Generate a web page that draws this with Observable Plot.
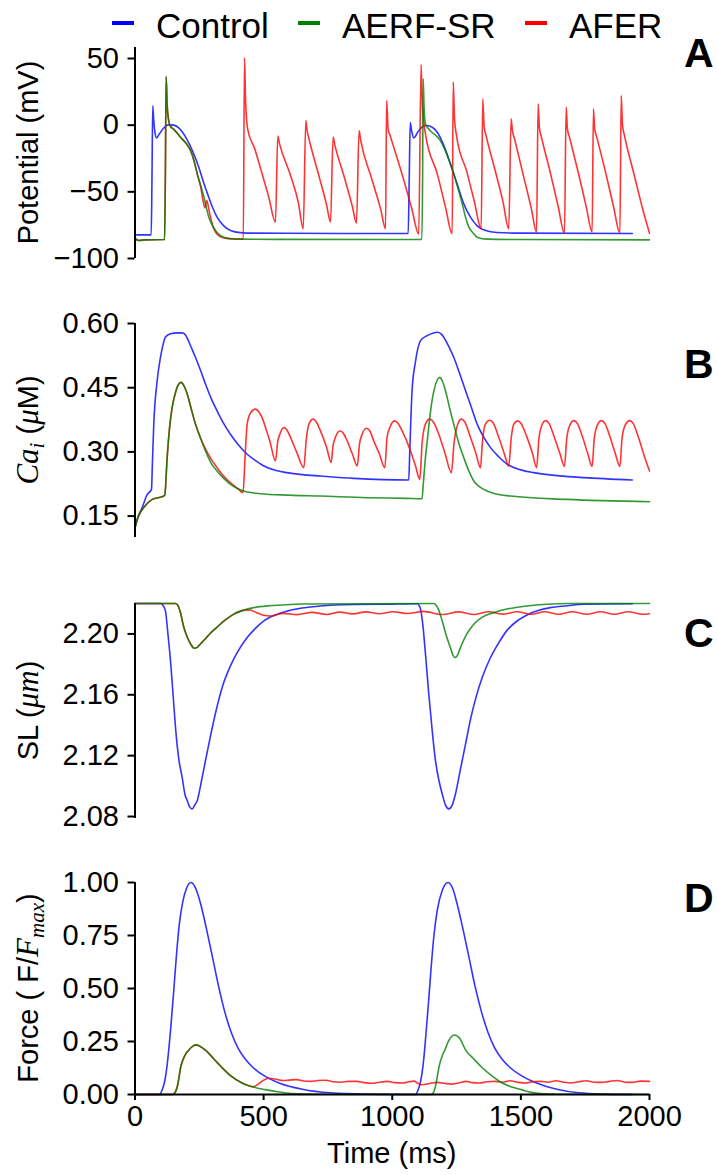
<!DOCTYPE html>
<html><head><meta charset="utf-8">
<script src="https://cdn.jsdelivr.net/npm/d3@7"></script>
<script src="https://cdn.jsdelivr.net/npm/@observablehq/plot@0.6"></script>
<style>
html,body{margin:0;padding:0;background:#fff;}
#fig{position:relative;width:718px;height:1175px;overflow:hidden;background:#fff;}
#fig svg.panel{position:absolute;left:0;}
#overlay{position:absolute;left:0;top:0;}
</style></head><body><div id="fig"></div>
<script>
// ---------------- data ----------------
const seriesNames = ["Control", "AERF-SR", "AFER"];
const seriesColors = ["#0000ff", "#008000", "#ff0000"];
const panelLetters = ["A", "B", "C", "D"];
const xTicks = [0, 500, 1000, 1500, 2000];
const apTicks = [-100, -50, 0, 50];
const caTicks = [0.15, 0.30, 0.45, 0.60];
const slTicks = [2.08, 2.12, 2.16, 2.20];
const forceTicks = [0, 0.25, 0.5, 0.75, 1.0];

// Panel A: membrane potential (mV), [time ms, value]
const apControl = [[0,-82.3],[63,-82.3],[66,-40],[69,14.5],[73,3],[78,-6],[84,-9.5],[95,-6.5],[110,-2.5],[130,0.2],[150,0],[170,-2],[203,-11],[225,-20],[248,-31.5],[265,-42],[283,-52],[300,-61],[319,-69],[345,-75.5],[371,-79],[410,-80.6],[462,-81],[800,-81.2],[1062,-81.3],
  [1066,-40],[1070,2],[1075,-4],[1084,-9.5],[1100,-5],[1115,-1.5],[1130,-0.3],[1150,-1],[1175,-5.3],[1200,-15],[1226,-29],[1252,-44],[1278,-59],[1304,-69],[1330,-75.5],[1360,-78.8],[1408,-80.5],[1500,-81],[1933,-81.2]];
const apAerf = [[0,-85],[15,-86.5],[40,-86],[115,-85.8],[118,-40],[121,36.5],[125,15],[131,3.5],[138,-1],[150,-3],[177,-9],[200,-14],[216,-19],[230,-27],[242,-36.5],[255,-45],[268,-54],[287,-69],[300,-75],[313,-79],[330,-82.5],[345,-84],[380,-85.2],[410,-85.5],[1000,-85.8],[1115,-85.8],
  [1118,-40],[1120,34.75],[1124,12],[1129,1],[1140,-2.5],[1165,-7],[1185,-11],[1200,-16.5],[1220,-26],[1239,-36.5],[1255,-47],[1272,-59],[1285,-69],[1298,-76.5],[1315,-81],[1330,-84],[1369,-85.5],[1500,-85.8],[2000,-86]];
const apAfer = [[0,-85],[15,-86.5],[40,-86],[115,-85.8],[118,-40],[121,36.5],[125,15],[131,3.5],[138,-1],[150,-3],[177,-9],[200,-14],[216,-19],[230,-27],[242,-36.5],[255,-46],[266,-58],[272,-62],[279,-56.5],[290,-66],[305,-77],[330,-83.5],[370,-85.3],[421,-85.5],
  [425.6,50.5],[430,18],[438,-3],[466,-18],[494,-36.5],[520,-54],[546,-72.75],
  [555,-8.25],[562,-14],[605,-38],[635,-58],[654,-77.75],
  [664,3.5],[669,-4],[676,-10],[715,-38],[745,-60],[760,-72.75],
  [770,-9],[777,-15],[815,-40],[845,-61],[861,-73.5],
  [871,-4],[877,-11],[920,-40],[955,-63],[974,-77.75],
  [978,18.5],[984,-3],[992,-8],[1040,-38],[1075,-62],[1103,-81.5],
  [1112,45.5],[1117,15],[1129,-6.5],[1175,-36.5],[1207,-61.5],[1233,-81.5],
  [1237,32.25],[1242,5],[1250,-8],[1290,-35],[1320,-58],[1345.6,-77.75],
  [1352,19.75],[1357,-1],[1365,-8],[1400,-34],[1430,-57],[1453,-77.75],
  [1462,4.75],[1467,-4],[1475,-10],[1510,-38],[1540,-62],[1561,-80.25],
  [1567,16],[1572,-2],[1580,-9],[1615,-36],[1645,-61],[1669.5,-81],
  [1676,13.5],[1681,-3],[1689,-9],[1725,-37],[1755,-62],[1777,-80.25],
  [1782,12.25],[1787,-3],[1795,-9],[1830,-36],[1860,-61],[1885,-81],
  [1890,22.25],[1895,0],[1903,-8],[1940,-37],[1975,-64],[2000,-81]];

// Panel B: intracellular Ca (uM)
const caControl = [[0,0.123],[10,0.145],[28,0.17],[47,0.2],[64,0.2125],[68,0.28],[73,0.365],[85,0.46],[99,0.521],[110,0.553],[118,0.568],[138,0.576],[165,0.578],[183,0.578],[195,0.574],[203,0.566],[218,0.545],[235,0.521],[255,0.49],[274,0.4586],[296,0.425],[319,0.396],[345,0.366],[371,0.3414],[400,0.318],[436,0.2945],[470,0.279],[501,0.2671],[545,0.257],[591,0.2515],[650,0.247],[721,0.2437],[851,0.2382],[1064,0.2343],
  [1068,0.3],[1077,0.443],[1090,0.51],[1110,0.56],[1136,0.5718],[1160,0.578],[1175,0.5797],[1190,0.576],[1200,0.568],[1220,0.546],[1239,0.521],[1262,0.483],[1285,0.443],[1308,0.403],[1330,0.365],[1355,0.335],[1382,0.31],[1415,0.288],[1447,0.271],[1500,0.258],[1550,0.2515],[1650,0.244],[1745,0.2398],[1933,0.2343]];
const caAerf = [[0,0.123],[12,0.148],[34,0.17],[67,0.189],[112,0.197],[116,0.2],[125,0.2867],[135,0.36],[144.5,0.404],[158,0.44],[170,0.4586],[179,0.4625],[190,0.455],[203,0.435],[218,0.402],[235,0.365],[255,0.332],[274,0.3023],[296,0.274],[319,0.2554],[345,0.238],[371,0.2242],[400,0.214],[423,0.2085],[488,0.2023],[600,0.199],[721,0.1968],[900,0.193],[1058,0.1914],[1116,0.1905],
  [1120,0.22],[1128,0.28],[1136,0.3257],[1150,0.4],[1162,0.443],[1175,0.468],[1185,0.4742],[1195,0.465],[1207,0.443],[1222,0.405],[1239,0.365],[1258,0.322],[1278,0.2867],[1298,0.255],[1317,0.232],[1340,0.218],[1369,0.2085],[1400,0.202],[1460,0.1968],[1680,0.189],[2000,0.1835]];
const caAfer = [[0,0.123],[12,0.148],[34,0.17],[67,0.189],[112,0.197],[116,0.2],[125,0.2867],[135,0.36],[144.5,0.404],[158,0.44],[170,0.4586],[179,0.4625],[190,0.455],[203,0.435],[218,0.402],[235,0.365],[255,0.332],[274,0.307],[296,0.283],[319,0.2632],[345,0.243],[371,0.228],[400,0.214],[420,0.2046],
  [428,0.29],[436,0.365],[450,0.392],[468,0.4],[482,0.393],[494,0.38],[510,0.352],[524,0.3257],[546,0.2789],
  [555,0.325],[563,0.3414],[578.6,0.357],[590,0.352],[604.5,0.334],[630,0.297],[656,0.2632],
  [666,0.33],[676,0.365],[692.6,0.3765],[705,0.37],[721,0.349],[745,0.31],[762.5,0.275],
  [770,0.315],[779,0.334],[796,0.349],[808,0.345],[825,0.3257],[845,0.295],[864,0.2671],
  [873,0.32],[883,0.3414],[900,0.3554],[912,0.35],[928,0.3257],[950,0.295],[971,0.2632],
  [980,0.335],[990.6,0.357],[1009,0.3726],[1022,0.367],[1038.5,0.349],[1071,0.3023],[1090,0.268],[1107,0.2359],
  [1116,0.32],[1129,0.365],[1146,0.3765],[1160,0.37],[1181,0.3414],[1205,0.297],[1230,0.2515],
  [1240,0.32],[1255,0.365],[1269,0.3765],[1282,0.37],[1304,0.334],[1325,0.297],[1343,0.2632],
  [1350,0.32],[1362,0.365],[1379,0.374],[1392,0.368],[1414,0.334],[1435,0.297],[1453,0.2671],
  [1462,0.33],[1472.6,0.365],[1488,0.3726],[1500,0.367],[1524,0.334],[1545,0.297],[1561,0.2632],
  [1570,0.33],[1580,0.36],[1596,0.373],[1610,0.366],[1630,0.334],[1652,0.296],[1669.5,0.266],
  [1678,0.33],[1690,0.362],[1706,0.373],[1720,0.366],[1740,0.334],[1760,0.296],[1777,0.266],
  [1785,0.33],[1797,0.362],[1813,0.373],[1827,0.366],[1847,0.334],[1867,0.296],[1885,0.266],
  [1893,0.33],[1905,0.362],[1923,0.373],[1937,0.366],[1957,0.334],[1980,0.29],[2000,0.2554]];

// Panel C: sarcomere length (um)
const slControl = [[0,2.22],[99,2.22],[110,2.2185],[118.5,2.215],[128,2.2],[138,2.1823],[148,2.16],[157.4,2.1386],[170,2.118],[183,2.106],[195,2.094],[203,2.0905],[212,2.0865],[222,2.085],[232,2.0875],[242,2.0905],[258,2.103],[274,2.1168],[293,2.1325],[313,2.148],[340,2.1655],[371,2.179],[400,2.1885],[436,2.1976],[470,2.204],[501,2.2086],[545,2.2125],[591.5,2.215],[650,2.217],[721,2.2184],[850,2.2193],[980,2.2195],[1097,2.2198],
  [1108,2.2175],[1120,2.2042],[1130,2.185],[1142,2.1605],[1155,2.137],[1168,2.1168],[1181,2.104],[1194,2.095],[1207,2.0875],[1220,2.085],[1233,2.0875],[1246,2.095],[1265,2.111],[1285,2.1277],[1305,2.1445],[1325,2.158],[1350,2.1715],[1382,2.1845],[1415,2.1945],[1447,2.2025],[1485,2.2085],[1524,2.2125],[1570,2.2155],[1615,2.2173],[1680,2.2185],[1745,2.2195],[1933,2.2198]];
const slAerf = [[0,2.22],[157,2.22],[165,2.2192],[175,2.215],[190,2.2042],[203,2.198],[216,2.1935],[230,2.1906],[242,2.1912],[255,2.1935],[268,2.1958],[290,2.2],[319,2.2045],[350,2.209],[384,2.213],[420,2.2155],[462,2.2173],[520,2.2185],[565.6,2.219],[650,2.2197],[1160,2.22],
  [1170,2.219],[1180,2.216],[1194,2.2086],[1210,2.199],[1226,2.191],[1236,2.186],[1243,2.1845],[1252,2.1855],[1265,2.191],[1290,2.2],[1317,2.2064],[1350,2.211],[1395,2.214],[1450,2.2165],[1524,2.2184],[1600,2.2195],[1680,2.22],[2000,2.22]];
const slAfer = [[0,2.22],[157,2.22],[165,2.2192],[175,2.215],[190,2.2042],[203,2.198],[216,2.1935],[230,2.1906],[242,2.1912],[255,2.1935],[268,2.1958],[290,2.2],[319,2.2045],[350,2.209],[384,2.213],[420,2.2155],[445,2.2158],[470,2.2142],[495,2.2125],[527,2.2118],[575,2.2135],[630,2.2127],[688,2.2142],[745,2.2128],[795,2.2143],[846,2.2132],[898,2.2145],[950,2.2133],[1003,2.2146],[1060,2.2134],[1120,2.2148],[1195,2.2128],[1257,2.2145],[1320,2.2128],[1375,2.2146],[1430,2.213],[1485,2.2146],[1540,2.2129],[1593,2.2146],[1646,2.2129],[1700,2.2146],[1756,2.2129],[1810,2.2146],[1863,2.2129],[1918,2.2146],[1973,2.2129],[2000,2.2133]];

// Panel D: normalised force (F/Fmax)
const fControl = [[0,0],[95,0],[105,0.02],[115,0.06],[125,0.14],[138,0.3],[150,0.48],[160,0.64],[172,0.8],[185,0.905],[200,0.972],[218,1.0],[235,0.975],[255,0.9],[278,0.78],[300,0.655],[325,0.51],[350,0.385],[375,0.29],[400,0.22],[430,0.165],[461,0.125],[500,0.09],[565,0.052],[650,0.025],[760,0.008],[900,0.002],[1090,0],
  [1100,0.02],[1110,0.06],[1120,0.14],[1130,0.27],[1140,0.42],[1150,0.58],[1162,0.75],[1175,0.87],[1195,0.965],[1217,1.0],[1234,0.975],[1252,0.9],[1275,0.78],[1297,0.655],[1322,0.51],[1348,0.385],[1373,0.29],[1398,0.22],[1428,0.165],[1460,0.125],[1500,0.09],[1561,0.054],[1640,0.025],[1725,0.008],[1830,0.002],[1933,0]];
const fAerf = [[0,0],[145,0],[155,0.008],[165,0.04],[178,0.131],[192,0.18],[208,0.208],[225,0.228],[238,0.234],[252,0.228],[275,0.208],[305,0.17],[335,0.131],[370,0.09],[416,0.054],[460,0.035],[506,0.023],[560,0.012],[610,0.005],[700,0.001],[1150,0],
  [1160,0.008],[1170,0.05],[1182,0.131],[1195,0.185],[1204,0.208],[1220,0.255],[1242,0.281],[1262,0.265],[1286,0.208],[1315,0.17],[1346,0.131],[1385,0.09],[1427.5,0.054],[1465,0.035],[1502,0.023],[1540,0.01],[1576,0.004],[1650,0.001],[2000,0]];
const fAfer = [[0,0],[145,0],[155,0.008],[165,0.04],[178,0.131],[192,0.18],[208,0.208],[225,0.228],[238,0.234],[252,0.228],[275,0.208],[305,0.17],[335,0.131],[370,0.09],[416,0.054],[440,0.042],[460,0.037],[480,0.05],[500,0.068],[520,0.077],[545,0.073],[575,0.066],[600,0.068],[628,0.07],[655,0.064],[684,0.062],[710,0.066],[743,0.067],[770,0.06],[803,0.058],[830,0.062],[862,0.062],[890,0.056],[922,0.053],[950,0.058],[981,0.062],[1010,0.056],[1041,0.054],[1065,0.06],[1085,0.063],[1100,0.052],[1115,0.046],[1145,0.052],[1175,0.057],[1205,0.052],[1234,0.049],[1260,0.055],[1286,0.062],[1310,0.056],[1338,0.054],[1368,0.06],[1398,0.062],[1428,0.058],[1457,0.065],[1487,0.058],[1517,0.054],[1546,0.06],[1576,0.062],[1606,0.058],[1636,0.065],[1665,0.058],[1695,0.054],[1725,0.06],[1755,0.065],[1785,0.058],[1814,0.057],[1844,0.062],[1874,0.066],[1904,0.058],[1933,0.057],[1965,0.063],[2000,0.062]];

// ---------------- layout ----------------
const FONT = '"Liberation Sans", Arial, Helvetica, sans-serif';
const MATH = '"Liberation Serif", "DejaVu Serif", serif';
const W = 718, ML = 134.5, MR = 69;
const minus = d => (d < 0 ? "\u2212" + Math.abs(d) : String(d));
const f2 = d3.format(".2f");

const panels = [
  {top: 47,  bottom: 258,  domain: [-100, 58.25], ticks: apTicks,    fmt: minus, series: [apControl, apAerf, apAfer]},
  {top: 323, bottom: 537,  domain: [0.1, 0.6],    ticks: caTicks,    fmt: f2,    series: [caControl, caAerf, caAfer]},
  {top: 603, bottom: 818,  domain: [2.0787, 2.22],ticks: slTicks,    fmt: f2,    series: [slControl, slAerf, slAfer]},
  {top: 882, bottom: 1094, domain: [0, 1],        ticks: forceTicks, fmt: f2,    series: [fControl, fAerf, fAfer]}
];

const fig = document.getElementById("fig");
panels.forEach((p, i) => {
  const mt = 12, mb = i === 3 ? 81 : 12;
  const marks = [];
  for (const k of [0, 2, 1]) {
    marks.push(Plot.line(p.series[k], {x: d => d[0], y: d => d[1], stroke: seriesColors[k], strokeWidth: 1.6, strokeOpacity: 0.8, curve: "monotone-x"}));
  }
  marks.push(Plot.ruleX([0], {stroke: "black", strokeWidth: 2}));
  marks.push(Plot.axisY(p.ticks, {tickSize: 7, tickPadding: 9, tickFormat: p.fmt, strokeWidth: 2, label: null, fontSize: 29}));
  if (i === 3) {
    marks.push(Plot.ruleY([0], {stroke: "black", strokeWidth: 2}));
    marks.push(Plot.axisX(xTicks, {tickSize: 6, tickPadding: 5, strokeWidth: 2, label: null, fontSize: 29, tickFormat: d => String(d)}));
  }
  const svg = Plot.plot({
    width: W, height: (p.bottom - p.top) + mt + mb,
    marginTop: mt, marginBottom: mb, marginLeft: ML, marginRight: MR,
    x: i === 3 ? {domain: [0, 2000]} : {domain: [0, 2000], axis: null},
    y: {domain: p.domain},
    style: {background: "transparent", overflow: "visible", fontFamily: FONT, fontSize: "29px", color: "black"},
    marks
  });
  svg.classList.add("panel");
  svg.style.top = (p.top - mt) + "px";
  fig.appendChild(svg);
});

// overlay: legend, axis titles, panel letters
const ov = d3.select(fig).append("svg").attr("id", "overlay").attr("width", W).attr("height", 1175)
  .style("font-family", FONT);

const legendX = [{dash: 112, text: 156}, {dash: 298, text: 342}, {dash: 525, text: 569}];
seriesNames.forEach((name, k) => {
  ov.append("line").attr("x1", legendX[k].dash).attr("x2", legendX[k].dash + 22)
    .attr("y1", 23).attr("y2", 23).attr("stroke", seriesColors[k]).attr("stroke-width", 4);
  ov.append("text").attr("x", legendX[k].text).attr("y", 38).attr("font-size", 35).text(name);
});

const letterY = [67, 378, 647, 912];
panelLetters.forEach((L, i) => {
  ov.append("text").attr("x", 684).attr("y", letterY[i]).attr("font-size", 41).attr("font-weight", "bold").text(L);
});

function yTitle(cy, parts) {
  const t = ov.append("text").attr("transform", `translate(38,${cy}) rotate(-90)`)
    .attr("text-anchor", "middle").attr("font-size", 29);
  parts.forEach(pt => {
    const s = t.append("tspan").text(pt.t);
    if (pt.math) s.attr("font-family", MATH).attr("font-style", "italic");
    if (pt.dy) s.attr("dy", pt.dy);
    if (pt.size) s.attr("font-size", pt.size);
  });
}
yTitle((47 + 258) / 2, [{t: "Potential (mV)"}]);
yTitle((323 + 537) / 2, [{t: "Ca", math: true, size: 31}, {t: "i", math: true, size: 21, dy: 6}, {t: " (", dy: -6}, {t: "\u03bc", math: true, size: 31}, {t: "M)"}]);
yTitle((603 + 818) / 2, [{t: "SL ("}, {t: "\u03bcm", math: true, size: 31}, {t: ")"}]);
yTitle((882 + 1094) / 2, [{t: "Force ( F/"}, {t: "F", math: true, size: 31}, {t: "max", math: true, size: 21, dy: 6}, {t: ")", dy: -6}]);

ov.append("text").attr("x", (ML + (W - MR)) / 2).attr("y", 1163).attr("text-anchor", "middle")
  .attr("font-size", 29).text("Time (ms)");
</script></body></html>
